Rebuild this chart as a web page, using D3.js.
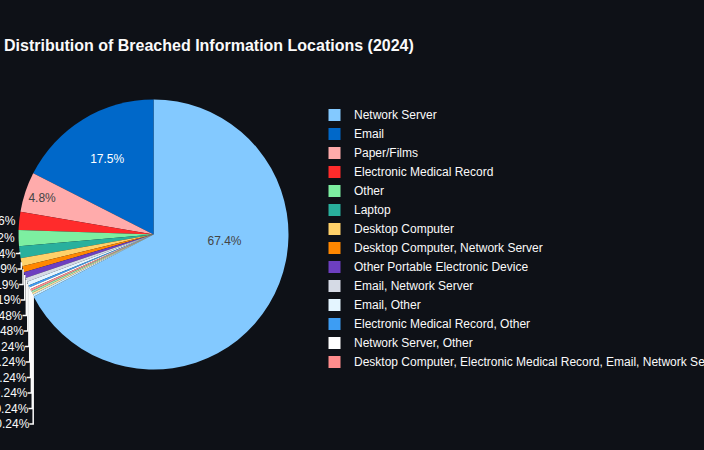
<!DOCTYPE html>
<html><head><meta charset="utf-8">
<script src="https://cdn.jsdelivr.net/npm/d3@7"></script>
<style>html,body{margin:0;padding:0;background:#0e1117;} svg{display:block;}</style>
</head><body>
<svg id="c" width="704" height="450"></svg>
<script>
// ---- data ----
const title = "Distribution of Breached Information Locations (2024)";
const categories = [
  "Network Server",
  "Email",
  "Paper/Films",
  "Electronic Medical Record",
  "Other",
  "Laptop",
  "Desktop Computer",
  "Desktop Computer, Network Server",
  "Other Portable Electronic Device",
  "Email, Network Server",
  "Email, Other",
  "Electronic Medical Record, Other",
  "Network Server, Other",
  "Desktop Computer, Electronic Medical Record, Email, Network Server",
  "Electronic Medical Record, Network Server",
  "Laptop, Network Server",
  "Network Server, Paper/Films"
];
const counts = [281, 73, 20, 9, 8, 6, 4, 3, 3, 2, 2, 1, 1, 1, 1, 1, 1];
const colors = [
  "#83c9ff", "#0068c9", "#ffabab", "#ff2b2b", "#7defa1", "#29b09d",
  "#ffd16a", "#ff8700", "#6d3fc0", "#d5dae5", "#e4f5ff", "#3d9df3",
  "#ffffff", "#ff8c8c", "#9de8b6", "#ffe3a8", "#c7ebff"
];

// ---- style ----
const FONT = "'Liberation Sans', Arial, Helvetica, sans-serif";
const BG = "#0e1117", FG = "#fafafa";
const W = 704, H = 450;
const cx = 153.5, cy = 234.5, R = 135;
const LABEL_H = 15.5;      // text box height used for label stacking
const FS = 12;

const svg = d3.select("#c");
svg.append("rect").attr("width", W).attr("height", H).attr("fill", BG);

// title
svg.append("text").attr("x", 4).attr("y", 51)
  .attr("font-family", FONT).attr("font-size", 16).attr("font-weight", "bold")
  .attr("fill", FG).text(title);

const total = d3.sum(counts);
const data = categories.map((c, i) => ({name: c, v: counts[i], color: colors[i]}));
const a1 = 2 * Math.PI * counts[0] / total;
const pie = d3.pie().value(d => d.v).sort(null).startAngle(a1).endAngle(a1 - 2 * Math.PI);
const arcs = pie(data);
const arc = d3.arc().innerRadius(0).outerRadius(R);

const g = svg.append("g").attr("transform", `translate(${cx},${cy})`);
g.selectAll("path.slice").data(arcs).join("path").attr("class", "slice")
  .attr("d", arc).attr("fill", d => d.data.color);

function fmtPct(v) {
  let t = (v * 100).toPrecision(3);
  if (t.indexOf(".") !== -1) t = t.replace(/[.]?0+$/, "");
  return t + "%";
}
function isDark(c) {
  const k = d3.rgb(c);
  return (k.r * 299 + k.g * 587 + k.b * 114) / 1000 < 128;
}
// measure
const meas = svg.append("text").attr("font-family", FONT).attr("font-size", FS).attr("x", -999).attr("y", -999);
function textW(s) { meas.text(s); return meas.node().getComputedTextLength(); }

const labels = arcs.map(a => {
  const txt = fmtPct(a.data.v / total);
  const w = textW(txt);
  const half = Math.abs(a.endAngle - a.startAngle) / 2;
  const mid = (a.startAngle + a.endAngle) / 2;
  const rIns = Math.min(1 / (1 + 1 / Math.sin(half)), 0.5);
  const diag = Math.sqrt(w * w + LABEL_H * LABEL_H);
  const scale = rIns * R * 2 / diag;
  const px = R * Math.sin(mid), py = -R * Math.cos(mid);
  return {a, txt, w, half, mid, rIns, scale, px, py, inside: scale >= 1, extraY: 0};
});

// inside labels
labels.filter(l => l.inside).forEach(l => {
  let x, y;
  if (l.half > Math.PI / 2) {
    // large slice: text set horizontally where the slice crosses 3 o'clock
    const ang = Math.PI / 2;
    x = 0.526 * R * Math.sin(ang);
    y = -0.526 * R * Math.cos(ang) + 6.5;
  } else {
    x = (1 - l.rIns) * l.px;
    y = (1 - l.rIns) * l.py;
  }
  g.append("text").attr("x", x).attr("y", y).attr("dy", "0.35em")
    .attr("text-anchor", "middle").attr("font-family", FONT).attr("font-size", FS)
    .attr("fill", isDark(l.a.data.color) ? "#ffffff" : "#444444").text(l.txt);
});

// outside labels (plotly-like placement)
const outs = labels.filter(l => !l.inside);
outs.forEach(l => {
  const sx = l.px < 0 ? -1 : 1, sy = l.py < 0 ? -1 : 1;
  const dx = sx * l.w / 2, dy = sy * LABEL_H / 2;
  const tx = dx + Math.abs(dy) * sx / 2;
  const ty = dy / (1 + (l.px * l.px) / (l.py * l.py));
  l.cx = l.px + tx;
  l.cy = l.py + ty;
  l.yMin = l.cy - LABEL_H / 2;
  l.yMax = l.cy + LABEL_H / 2;
});
const quads = [[[], []], [[], []]];
outs.forEach(l => quads[l.py < 0 ? 0 : 1][l.px < 0 ? 0 : 1].push(l));
for (let yh = 0; yh < 2; yh++) {
  const sorter = yh ? (a, b) => a.py - b.py : (a, b) => b.py - a.py;
  const sign = yh ? 1 : -1;
  for (let xh = 0; xh < 2; xh++) {
    const q = quads[yh][xh];
    q.sort(sorter);
    const opp = quads[1 - yh][xh];
    const firstOpp = yh && opp.length ? opp[0] : null;
    for (let i = 0; i < q.length; i++) {
      let prev = i ? q[i - 1] : null;
      if (firstOpp && !i) prev = firstOpp;
      if (!prev) continue;
      const prevOuter = prev.extraY + (yh ? prev.yMax : prev.yMin);
      const thisInner = yh ? q[i].yMin : q[i].yMax;
      const ne = prevOuter - thisInner;
      if (ne * sign > 0) q[i].extraY = ne;
    }
  }
}
outs.forEach(l => {
  if (l.extraY) {
    const fx = LABEL_H * (l.px < 0 ? -1 : 1) / 4;
    g.append("path")
      .attr("d", `M${l.px},${l.py}V${l.cy + l.extraY}h${fx}`)
      .attr("fill", "none").attr("stroke", FG).attr("stroke-width", 1.5);
  }
});
outs.forEach(l => {
  g.append("text").attr("x", l.cx).attr("y", l.cy + l.extraY).attr("dy", "0.35em")
    .attr("text-anchor", "middle").attr("font-family", FONT).attr("font-size", FS)
    .attr("fill", FG).text(l.txt);
});
meas.remove();

// legend
const defs = svg.append("defs");
defs.append("clipPath").attr("id", "legclip").append("rect")
  .attr("x", 320).attr("y", 100).attr("width", 384).attr("height", 272);
const leg = svg.append("g").attr("clip-path", "url(#legclip)");
const rowY = d3.scaleLinear().domain([0, 1]).range([115, 134]);
const items = leg.selectAll("g.item").data(data).join("g").attr("class", "item")
  .attr("transform", (d, i) => `translate(0,${rowY(i)})`);
items.append("rect").attr("x", 328.5).attr("y", -6).attr("width", 12).attr("height", 12)
  .attr("fill", d => d.color);
items.append("text").attr("x", 354).attr("y", 0).attr("dy", "0.35em")
  .attr("font-family", FONT).attr("font-size", FS).attr("fill", FG).text(d => d.name);
</script>
</body></html>
